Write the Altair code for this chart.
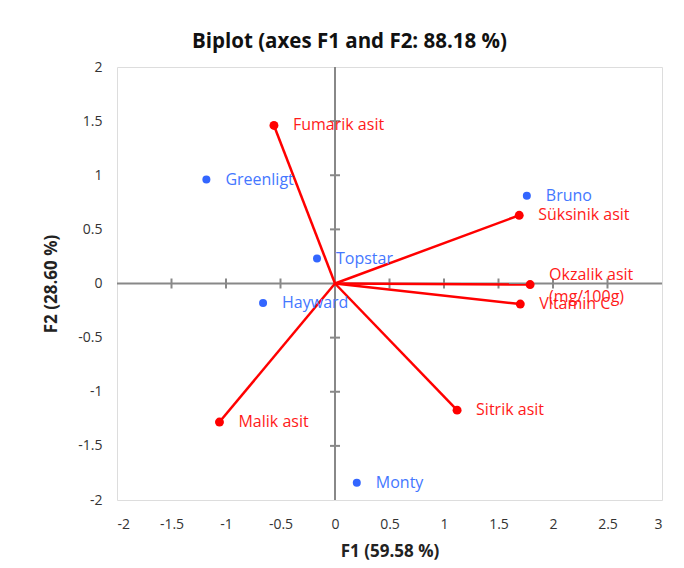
import altair as alt
import pandas as pd

# Observations (blue)
obs_names = ["Greenligt", "Bruno", "Topstar", "Hayward", "Monty"]
obs_f1 = [-1.18, 1.76, -0.165, -0.66, 0.20]
obs_f2 = [0.96, 0.81, 0.23, -0.18, -1.84]

# Variables (red vectors)
var_names = ["Fumarik asit", "Süksinik asit", "Okzalik asit\n(mg/100g)", "Vitamin C", "Sitrik asit", "Malik asit"]
var_f1 = [-0.56, 1.69, 1.79, 1.70, 1.12, -1.06]
var_f2 = [1.46, 0.63, -0.01, -0.19, -1.17, -1.28]

x_ticks = [-2, -1.5, -1, -0.5, 0, 0.5, 1, 1.5, 2, 2.5, 3]
y_ticks = [-2, -1.5, -1, -0.5, 0, 0.5, 1, 1.5, 2]

FONT = "Open Sans"
GRAY = "#888888"

obs = pd.DataFrame({"name": obs_names, "f1": obs_f1, "f2": obs_f2})
var = pd.DataFrame({"name": var_names, "f1": var_f1, "f2": var_f2})
var["o1"] = 0.0
var["o2"] = 0.0
xt = pd.DataFrame({"v": [t for t in x_ticks if t not in (-2, 0, 3)]})
yt = pd.DataFrame({"v": [t for t in y_ticks if t not in (-2, 0, 2)]})
zero = pd.DataFrame({"z": [0.0]})

xs = alt.Scale(domain=[-2, 3], nice=False, zero=False)
ys = alt.Scale(domain=[-2, 2], nice=False, zero=False)

xaxis = alt.Axis(values=x_ticks, title="F1 (59.58 %)", grid=False, ticks=False, domain=False,
                 labelExpr="datum.value + ''", labelFont=FONT, labelFontSize=14, labelColor="#333333",
                 labelPadding=17, titleFont=FONT, titleFontSize=17, titleFontWeight="bold",
                 titleColor="#222222", titlePadding=12)
yaxis = alt.Axis(values=y_ticks, title="F2 (28.60 %)", grid=False, ticks=False, domain=False,
                 labelExpr="datum.value + ''", labelFont=FONT, labelFontSize=14, labelColor="#333333",
                 labelPadding=15, titleFont=FONT, titleFontSize=17, titleFontWeight="bold",
                 titleColor="#222222", titlePadding=17)

base_x = alt.X("f1:Q", scale=xs, axis=xaxis)
base_y = alt.Y("f2:Q", scale=ys, axis=yaxis)

vline = alt.Chart(zero).mark_rule(color=GRAY, strokeWidth=2).encode(
    x=alt.X("z:Q", scale=xs, axis=xaxis))
hline = alt.Chart(zero).mark_rule(color=GRAY, strokeWidth=2).encode(
    y=alt.Y("z:Q", scale=ys, axis=yaxis))

xtick_marks = alt.Chart(xt).mark_point(shape="M0,-1L0,1", filled=False, size=100,
                                       color=GRAY, strokeWidth=2, opacity=1).encode(
    x=alt.X("v:Q", scale=xs), y=alt.datum(0, scale=ys))
ytick_marks = alt.Chart(yt).mark_point(shape="M-1,0L1,0", filled=False, size=100,
                                       color=GRAY, strokeWidth=2, opacity=1).encode(
    y=alt.Y("v:Q", scale=ys), x=alt.datum(0, scale=xs))

vectors = alt.Chart(var).mark_rule(color="#FF0000", strokeWidth=2.5).encode(
    x=alt.X("o1:Q", scale=xs), y=alt.Y("o2:Q", scale=ys), x2="f1:Q", y2="f2:Q")
var_pts = alt.Chart(var).mark_point(filled=True, color="#FF0000", size=80, opacity=1).encode(
    x=base_x, y=base_y)
var_lbl = alt.Chart(var).transform_filter("indexof(datum.name, '\\n') < 0").mark_text(
    align="left", baseline="middle", dx=19, font=FONT, fontSize=16,
    color="#FF1a1a").encode(x=base_x, y=base_y, text="name:N")
var_lbl2 = alt.Chart(var).transform_filter("indexof(datum.name, '\\n') >= 0").mark_text(
    align="left", baseline="middle", dx=19, dy=-10, font=FONT, fontSize=16,
    color="#FF1a1a", lineBreak="\n", lineHeight=22).encode(x=base_x, y=base_y, text="name:N")

obs_pts = alt.Chart(obs).mark_point(filled=True, color="#3366FF", size=64, opacity=1).encode(
    x=base_x, y=base_y)
obs_lbl = alt.Chart(obs).mark_text(align="left", baseline="middle", dx=19, font=FONT, fontSize=16,
                                   color="#4477FF").encode(
    x=base_x, y=base_y, text="name:N")

chart = alt.layer(vline, hline, xtick_marks, ytick_marks, vectors, var_pts, obs_pts, obs_lbl,
                  var_lbl, var_lbl2).properties(
    width=545, height=433,
    title=alt.TitleParams("Biplot (axes F1 and F2: 88.18 %)", font=FONT, fontSize=20.5, fontWeight="bold",
                          color="#111111", anchor="middle", offset=8, dx=-40),
    autosize=alt.AutoSizeParams(type="none"),
    padding={"left": 109, "top": 59, "right": 10, "bottom": 60},
).configure_view(stroke=GRAY, strokeWidth=2).configure(background="white")

chart.save("out.html", embed_options={"renderer": "svg", "actions": False})
